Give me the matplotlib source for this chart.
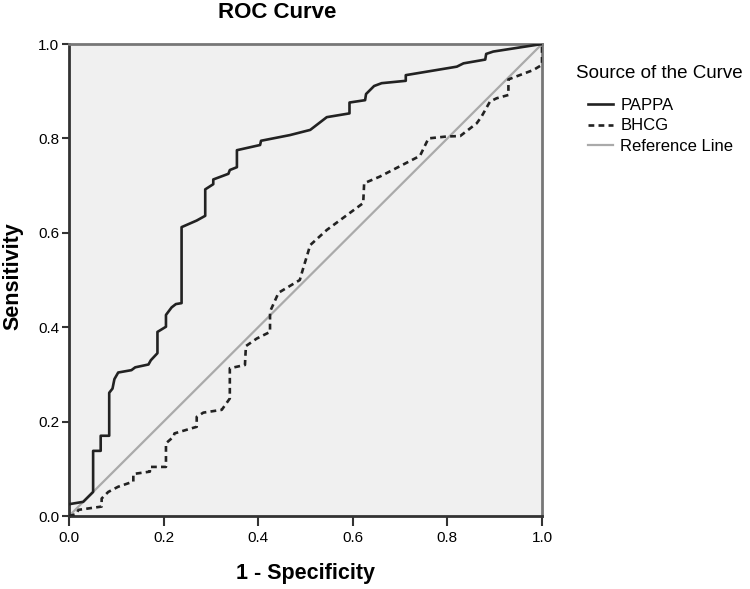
import matplotlib.pyplot as plt
from matplotlib.lines import Line2D

plt.rcParams['font.family'] = ['Liberation Sans', 'DejaVu Sans']

# ROC curve vertices (1 - specificity, sensitivity)
pappa_x = [0, 0.03, 0.035, 0.04, 0.051, 0.051, 0.067, 0.067, 0.085, 0.085, 0.092, 0.096,
           0.104, 0.132, 0.14, 0.168, 0.173, 0.187, 0.187, 0.205, 0.205, 0.217, 0.226,
           0.238, 0.238, 0.27, 0.288, 0.288, 0.305, 0.305, 0.337, 0.34, 0.355, 0.355,
           0.404, 0.406, 0.467, 0.51, 0.545, 0.593, 0.593, 0.626, 0.628, 0.645, 0.661,
           0.712, 0.712, 0.82, 0.834, 0.88, 0.882, 0.897, 1.0]
pappa_y = [0.025, 0.03, 0.035, 0.04, 0.051, 0.138, 0.138, 0.170, 0.170, 0.261, 0.27, 0.29,
           0.304, 0.309, 0.315, 0.321, 0.33, 0.345, 0.39, 0.401, 0.426, 0.442, 0.449,
           0.451, 0.612, 0.626, 0.636, 0.692, 0.703, 0.713, 0.725, 0.733, 0.739, 0.775,
           0.786, 0.795, 0.807, 0.818, 0.845, 0.853, 0.876, 0.881, 0.894, 0.911, 0.917,
           0.922, 0.934, 0.952, 0.959, 0.967, 0.979, 0.984, 1.0]

bhcg_x = [0, 0.015, 0.02, 0.069, 0.069, 0.083, 0.104, 0.136, 0.136, 0.171, 0.171, 0.205,
          0.205, 0.221, 0.223, 0.27, 0.27, 0.284, 0.323, 0.34, 0.34, 0.372, 0.374, 0.397,
          0.425, 0.425, 0.443, 0.488, 0.494, 0.51, 0.545, 0.622, 0.624, 0.657, 0.742,
          0.76, 0.798, 0.827, 0.862, 0.872, 0.89, 0.904, 0.929, 0.929, 0.982, 1.0, 1.0]
bhcg_y = [0, 0.004, 0.013, 0.02, 0.037, 0.051, 0.062, 0.073, 0.089, 0.094, 0.104, 0.104,
          0.154, 0.168, 0.175, 0.189, 0.21, 0.219, 0.225, 0.249, 0.313, 0.32, 0.36, 0.376,
          0.39, 0.433, 0.473, 0.5, 0.521, 0.574, 0.606, 0.663, 0.705, 0.719, 0.763,
          0.8, 0.804, 0.805, 0.832, 0.846, 0.878, 0.885, 0.892, 0.925, 0.945, 0.956, 1.0]

ref_x = [0, 1]
ref_y = [0, 1]

ticks = [0.0, 0.2, 0.4, 0.6, 0.8, 1.0]
tick_labels = ['0.0', '0.2', '0.4', '0.6', '0.8', '1.0']
series_names = ['PAPPA', 'BHCG', 'Reference Line']

W, H = 750, 589
fig = plt.figure(figsize=(7.5, 5.89), dpi=100)
ax = fig.add_axes([69 / W, 1 - 516 / H, 473 / W, 472 / H])
ax.set_facecolor('#f0f0f0')

dash = (0, (2.2, 1.6))
ax.plot(ref_x, ref_y, color='#aaaaaa', lw=1.6, zorder=2)
ax.plot(bhcg_x, bhcg_y, color='#222222', lw=1.9, ls=dash, zorder=3)
ax.plot(pappa_x, pappa_y, color='#222222', lw=1.9, zorder=4)

ax.set_xlim(0, 1)
ax.set_ylim(0, 1)
ax.set_xticks(ticks)
ax.set_xticklabels(tick_labels)
ax.set_yticks(ticks)
ax.set_yticklabels(tick_labels)
ax.tick_params(axis='x', direction='out', length=7, width=1.5, color='#333333',
               labelsize=11, pad=4)
ax.tick_params(axis='y', direction='out', length=5, width=1.5, color='#333333',
               labelsize=11, pad=2)

for side in ['left', 'bottom']:
    ax.spines[side].set_color('#333333')
    ax.spines[side].set_linewidth(2)
for side in ['top', 'right']:
    ax.spines[side].set_color('#777777')
    ax.spines[side].set_linewidth(2)

# title and axis labels, placed as in the SPSS output
fig.text(277 / W, 1 - 12 / H, 'ROC Curve', fontsize=16, fontweight='bold',
         ha='center', va='center')
fig.text(306 / W, 1 - 573 / H, '1 - Specificity', fontsize=15.5, fontweight='bold',
         ha='center', va='center')
fig.text(13 / W, 1 - 276 / H, 'Sensitivity', fontsize=15.5, fontweight='bold',
         ha='center', va='center', rotation=90)

# legend: title then indented entries
fig.text(576 / W, 1 - 73 / H, 'Source of the Curve', fontsize=13.5,
         ha='left', va='center')
handles = [Line2D([], [], color='#222222', lw=1.9),
           Line2D([], [], color='#222222', lw=1.9, ls=dash),
           Line2D([], [], color='#aaaaaa', lw=1.6)]
fig.legend(handles, series_names, loc='upper left',
           bbox_to_anchor=(588 / W, 1 - 98 / H), frameon=False,
           fontsize=12, handlelength=1.5, handletextpad=0.45,
           labelspacing=0.33, borderpad=0, borderaxespad=0)

fig.savefig('out.png', dpi=100)
